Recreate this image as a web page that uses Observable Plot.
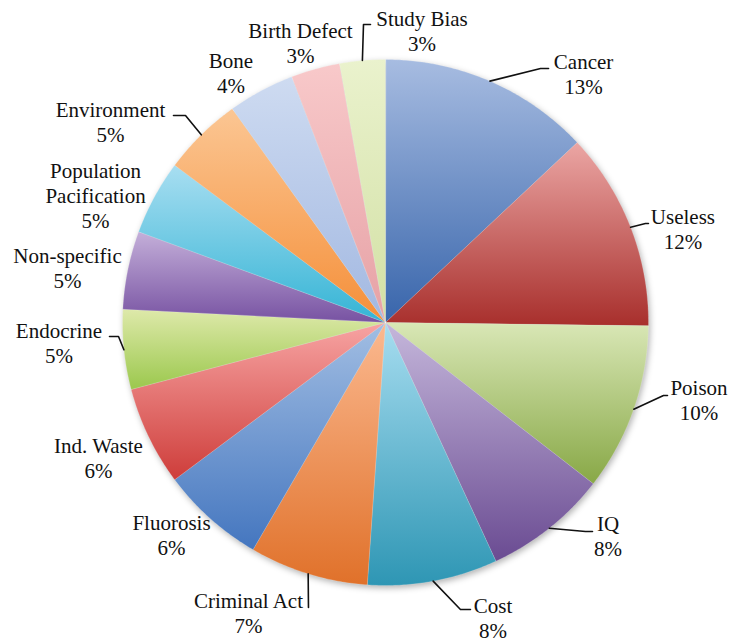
<!DOCTYPE html>
<html><head><meta charset="utf-8">
<script src="https://cdn.jsdelivr.net/npm/d3@7"></script>
<script src="https://cdn.jsdelivr.net/npm/@observablehq/plot@0.6"></script>
<style>html,body{margin:0;padding:0;background:#fff}</style>
</head><body><div id="chart"></div>
<script>
// ---- data ----
const categories = ["Cancer","Useless","Poison","IQ","Cost","Criminal Act","Fluorosis","Ind. Waste","Endocrine","Non-specific","Population Pacification","Environment","Bone","Birth Defect","Study Bias"];
const labelNames = ["Cancer","Useless","Poison","IQ","Cost","Criminal Act","Fluorosis","Ind. Waste","Endocrine","Non-specific","Population\nPacification","Environment","Bone","Birth Defect","Study Bias"];
const values = [13.0,12.2,10.3,7.6,8.0,7.3,6.4,6.1,4.9,4.8,4.6,4.9,4.1,3.0,2.8];
const topColors = ["#A7BCE1","#EBA6A4","#D9E7B6","#C5B7DB","#A7DDF0","#FBB990","#A2BEE3","#F7A4A3","#DEE9AA","#C4AFD9","#A8DEF1","#FBC693","#CEDBF1","#F8C9CA","#EAF2CD"];
const bottomColors = ["#3865AB","#A82F2C","#88A846","#6A4B92","#2E96B4","#E0712A","#4476BF","#CE3D3A","#9BC84D","#7752A2","#34B4D5","#F58F39","#A2B8E1","#E6A1A5","#D2E0A4"];

// ---- layout (pixel nudges from each slice's outer mid-point) ----
const labelOffsets = [[93.6,12.4],[52.3,21.3],[65.2,11.2],[58.7,28.2],[59.8,56.4],[-59.7,59.6],[-38.8,36.8],[-50.1,40.8],[-64.9,12.8],[-60.3,18.5],[-58.7,30.3],[-90.8,7.7],[-30,1.7],[-14.8,-6.5],[59.6,-10]];
const leaderBends = {
  "Cancer":[[50.6,-12.6],[58.6,-12.6]],
  "Useless":[[14.8,-3.7],[17.8,-3.7]],
  "Poison":[[29.7,-13.8],[33.7,-13.8]],
  "IQ":[[36.2,3.2],[43.2,3.2]],
  "Cost":[[27.3,28.4],[37.3,28.4]],
  "Criminal Act":[[0.3,33.6],[0.3,33.6]],
  "Endocrine":[[-5.4,-13.2],[-14.4,-13.2]],
  "Environment":[[-15.8,-19.3],[-27.8,-19.3]],
  "Study Bias":[[1.1,-36],[8.1,-36]]
};

const W = 731, H = 642, R = 263, CX = 385, CY = 322;
const total = d3.sum(values);
let cum = 0;
const slices = values.map((v, i) => {
  const a0 = cum / total * 2 * Math.PI; cum += v;
  const a1 = cum / total * 2 * Math.PI;
  return {cat: categories[i], v, a0, a1, mid: (a0 + a1) / 2, i};
});
function slicePoints(s) {
  const p = [{x: 0, y: 0}];
  const n = Math.max(2, Math.ceil((s.a1 - s.a0) / (Math.PI / 360)));
  for (let k = 0; k <= n; k++) {
    const a = s.a0 + (s.a1 - s.a0) * k / n;
    p.push({x: Math.sin(a), y: Math.cos(a)});
  }
  return p;
}
const labels = slices.map(s => {
  const ex = Math.sin(s.mid), ey = Math.cos(s.mid);
  const [dx, dy] = labelOffsets[s.i];
  return {x: ex + dx / R, y: ey - dy / R, text: labelNames[s.i] + "\n" + Math.round(s.v / total * 100) + "%"};
});
const leaderPts = [];
for (const s of slices) {
  const b = leaderBends[s.cat]; if (!b) continue;
  const ex = Math.sin(s.mid), ey = Math.cos(s.mid);
  leaderPts.push({cat: s.cat, x: ex, y: ey});
  for (const [dx, dy] of b) leaderPts.push({cat: s.cat, x: ex + dx / R, y: ey - dy / R});
}

const sliceMarks = slices.map(s =>
  Plot.line(slicePoints(s), {x: "x", y: "y", fill: `url(#g${s.i})`, stroke: "white", strokeWidth: 0.5, strokeOpacity: 0.4, curve: "linear-closed", className: "slice"})
);

const plot = Plot.plot({
  width: W, height: H, margin: 0,
  x: {domain: [-CX / R, (W - CX) / R], axis: null},
  y: {domain: [-(H - CY) / R, CY / R], axis: null},
  style: {fontFamily: "Liberation Serif", background: "white"},
  marks: [
    ...sliceMarks,
    Plot.line(leaderPts, {x: "x", y: "y", z: "cat", stroke: "#111", strokeWidth: 1.6}),
    Plot.text(labels, {x: "x", y: "y", text: "text", lineAnchor: "bottom", textAnchor: "middle", fontSize: 21, lineHeight: 25 / 21, fill: "#111"})
  ]
});

const svg = d3.select(plot);
const defs = svg.insert("defs", ":first-child");
slices.forEach(s => {
  const g = defs.append("linearGradient").attr("id", `g${s.i}`).attr("x1", 0).attr("y1", 0).attr("x2", 0).attr("y2", 1);
  g.append("stop").attr("offset", "0%").attr("stop-color", topColors[s.i]);
  g.append("stop").attr("offset", "100%").attr("stop-color", bottomColors[s.i]);
});
// soft shadow under the pie
const flt = defs.append("filter").attr("id", "shadow").attr("x", "-10%").attr("y", "-10%").attr("width", "130%").attr("height", "130%");
flt.append("feGaussianBlur").attr("stdDeviation", 3);
const sliceGroups = svg.selectAll("path").filter(function() { return (this.getAttribute("fill") || "").startsWith("url(") || (this.parentNode.getAttribute("fill") || "").startsWith("url("); });
const firstSlice = svg.select('g[aria-label="line"]');
if (!firstSlice.empty()) {
  svg.insert("circle", function() { return firstSlice.node(); })
    .attr("cx", CX + 2).attr("cy", CY + 3).attr("r", R).attr("fill", "#000").attr("fill-opacity", 0.3).attr("filter", "url(#shadow)");
}
document.getElementById("chart").appendChild(plot);
</script>
</body></html>
